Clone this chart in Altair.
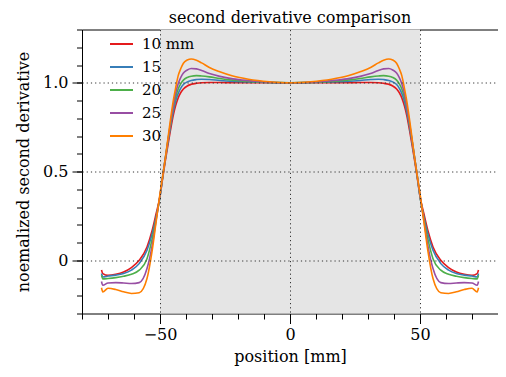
import altair as alt
import pandas as pd

# ---- data ----
x_pos = [-72.5, -72, -70, -67, -64, -61, -58, -55, -53, -51.5, -50, -49, -48, -47, -46, -45, -44, -43, -42, -41,
         -39.5, -38, -36, -34, -31, -27, -22, -16, -8, 0,
         8, 16, 22, 27, 31, 34, 36, 38, 39.5, 41, 42, 43, 44, 45, 46, 47, 48, 49, 50, 51.5,
         53, 55, 58, 61, 64, 67, 70, 72, 72.5]

series_names = ["10 mm", "15", "20", "25", "30"]
series_colors = ["#e41a1c", "#377eb8", "#4daf4a", "#984ea3", "#ff7f00"]

y_10 = [-0.055, -0.075, -0.085, -0.079, -0.066, -0.041, 0.0, 0.075, 0.169, 0.262, 0.36, 0.46, 0.555, 0.645, 0.73, 0.81, 0.87, 0.915, 0.945, 0.965,
        0.982, 0.991, 0.997, 1.0, 1.001, 1.001, 1.0, 1.0, 1.0, 1.0,
        1.0, 1.0, 1.0, 1.001, 1.001, 1.0, 0.997, 0.991, 0.982, 0.965, 0.945, 0.915, 0.87, 0.81, 0.73, 0.645, 0.555, 0.46, 0.36, 0.262,
        0.169, 0.075, 0.0, -0.041, -0.066, -0.079, -0.085, -0.075, -0.055]
y_15 = [-0.075, -0.094, -0.089, -0.084, -0.075, -0.056, -0.019, 0.056, 0.15, 0.244, 0.36, 0.465, 0.565, 0.66, 0.75, 0.83, 0.895, 0.94, 0.97, 0.99,
        1.005, 1.013, 1.018, 1.02, 1.018, 1.013, 1.008, 1.004, 1.001, 1.0,
        1.001, 1.004, 1.008, 1.013, 1.018, 1.02, 1.018, 1.013, 1.005, 0.99, 0.97, 0.94, 0.895, 0.83, 0.75, 0.66, 0.565, 0.465, 0.36, 0.244,
        0.15, 0.056, -0.019, -0.056, -0.075, -0.084, -0.089, -0.094, -0.075]
y_20 = [-0.085, -0.105, -0.103, -0.098, -0.09, -0.079, -0.056, 0.009, 0.122, 0.235, 0.36, 0.47, 0.57, 0.67, 0.76, 0.85, 0.92, 0.965, 0.995, 1.015,
        1.03, 1.037, 1.04, 1.038, 1.033, 1.024, 1.015, 1.008, 1.002, 1.0,
        1.002, 1.008, 1.015, 1.024, 1.033, 1.038, 1.04, 1.037, 1.03, 1.015, 0.995, 0.965, 0.92, 0.85, 0.76, 0.67, 0.57, 0.47, 0.36, 0.235,
        0.122, 0.009, -0.056, -0.079, -0.09, -0.098, -0.103, -0.105, -0.085]
y_25 = [-0.12, -0.141, -0.128, -0.126, -0.128, -0.131, -0.126, -0.047, 0.084, 0.225, 0.365, 0.47, 0.57, 0.67, 0.77, 0.86, 0.94, 0.995, 1.03, 1.055,
        1.072, 1.08, 1.078, 1.069, 1.052, 1.036, 1.022, 1.012, 1.003, 1.0,
        1.003, 1.012, 1.022, 1.036, 1.052, 1.069, 1.078, 1.08, 1.072, 1.055, 1.03, 0.995, 0.94, 0.86, 0.77, 0.67, 0.57, 0.47, 0.365, 0.225,
        0.084, -0.047, -0.126, -0.131, -0.128, -0.126, -0.128, -0.141, -0.12]
y_30 = [-0.155, -0.178, -0.158, -0.165, -0.178, -0.187, -0.183, -0.103, 0.056, 0.216, 0.375, 0.47, 0.57, 0.68, 0.79, 0.89, 0.97, 1.04, 1.08, 1.11,
        1.128, 1.134, 1.127, 1.112, 1.086, 1.062, 1.038, 1.02, 1.006, 1.0,
        1.006, 1.02, 1.038, 1.062, 1.086, 1.112, 1.127, 1.134, 1.128, 1.11, 1.08, 1.04, 0.97, 0.89, 0.79, 0.68, 0.57, 0.47, 0.375, 0.216,
        0.056, -0.103, -0.183, -0.187, -0.178, -0.165, -0.158, -0.178, -0.155]

x_domain = [-80, 80]
y_domain = [-0.3, 1.3]
shade_range = [-50, 50]
x_major = [-50, 0, 50]
x_minor = [-80, -70, -60, -50, -40, -30, -20, -10, 0, 10, 20, 30, 40, 50, 60, 70, 80]
y_major = [0, 0.5, 1.0]
y_minor = [-0.3, -0.2, -0.1, 0, 0.1, 0.2, 0.3, 0.4, 0.5, 0.6, 0.7, 0.8, 0.9, 1.0, 1.1, 1.2, 1.3]

rows = []
for name, vals in zip(series_names, [y_10, y_15, y_20, y_25, y_30]):
    for xv, yv in zip(x_pos, vals):
        rows.append({"x": xv, "y": yv, "series": name})
df = pd.DataFrame(rows)
shade = pd.DataFrame([{"x": shade_range[0], "x2": shade_range[1], "y": y_domain[0], "y2": y_domain[1]}])

FONT = "DejaVu Serif"
xs = alt.Scale(domain=x_domain, nice=False, zero=False)
ys = alt.Scale(domain=y_domain, nice=False, zero=False)

shade_layer = alt.Chart(shade).mark_rect(color="#e5e5e5").encode(
    x=alt.X("x:Q", scale=xs, axis=alt.Axis(
        values=x_major, title="position [mm]", grid=True, gridDash=[1.2, 3], gridColor="#333333",
        gridWidth=1, tickSize=10, tickColor="black", domain=False, labelPadding=3, titlePadding=6,
        orient="bottom", zindex=1)),
    x2="x2:Q",
    y=alt.Y("y:Q", scale=ys, axis=alt.Axis(
        values=y_major, title="noemalized second derivative", grid=True, gridDash=[1.2, 3],
        gridColor="#333333", gridWidth=1, tickSize=10, tickColor="black", domain=False,
        labelPadding=4, titlePadding=11, orient="left", zindex=1,
        labelExpr="datum.value == 0 ? '0' : format(datum.value, '.1f')")),
    y2="y2:Q",
)

line_layer = alt.Chart(df).mark_line(strokeWidth=1.6, interpolate="monotone").encode(
    x=alt.X("x:Q", scale=xs, axis=alt.Axis(values=x_minor, labels=False, title=None, grid=False,
                                         tickSize=5.5, tickColor="black", domain=False, orient="bottom")),
    y=alt.Y("y:Q", scale=ys, axis=alt.Axis(values=y_minor, labels=False, title=None, grid=False,
                                         tickSize=5.5, tickColor="black", domain=False, orient="left")),
    color=alt.Color("series:N", scale=alt.Scale(domain=series_names, range=series_colors),
                    legend=alt.Legend(title=None, orient="none", legendX=27, legendY=2,
                                      symbolType="stroke", symbolSize=529, symbolStrokeWidth=2,
                                      rowPadding=2, labelOffset=8, padding=0, labelFontSize=15,
                                      labelFont=FONT, labelColor="black")),
    detail="series:N",
)

chart = alt.layer(shade_layer, line_layer).resolve_axis(x="independent", y="independent").properties(
    width=416, height=284,
    title=alt.Title("second derivative comparison", font=FONT, fontSize=16, fontWeight="normal",
                    offset=3, color="black"),
    autosize=alt.AutoSizeParams(type="none"),
    padding={"left": 74, "top": 21.5, "right": 0, "bottom": 55.5},
).configure_view(stroke="black", strokeWidth=1).configure_axis(
    labelFont=FONT, titleFont=FONT, labelFontSize=16, titleFontSize=16, titleFontWeight="normal",
    labelColor="black", titleColor="black"
)

chart.save("out.html", embed_options={"renderer": "svg", "actions": False})
